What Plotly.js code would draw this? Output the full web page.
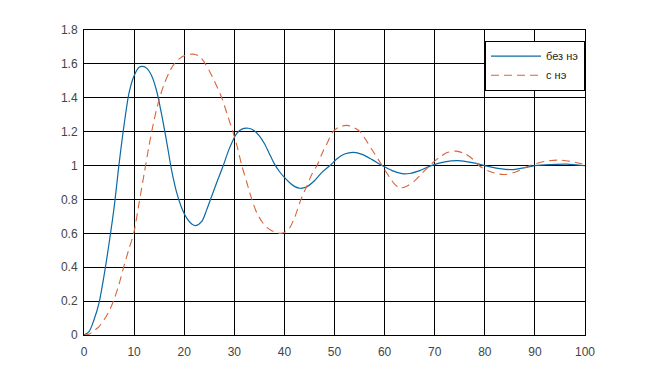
<!DOCTYPE html>
<html>
<head>
<meta charset="utf-8">
<script src="https://cdn.plot.ly/plotly-3.0.1.min.js"></script>
<style>html,body{margin:0;padding:0;background:#fff;}#chart{width:646px;height:375px;}</style>
</head>
<body>
<div id="chart"></div>
<script>
// series names
const seriesNames = ["без нэ", "с нэ"];

// "без нэ" (solid blue)
const blueX = [0, 1, 2, 3, 4, 5, 6, 7, 8, 9, 10, 11, 11.7, 12.5, 13.5, 14.5, 15.5, 16.5, 17.5, 18.5, 19.5, 20.5, 21.5, 22.3,
  23.5, 24.5, 25.5, 26.5, 27.8, 29, 30.5, 31.5, 32.8, 34, 35, 36, 37, 38, 39, 40, 41, 42, 43.1,
  44.5, 46, 47.5, 49.1, 50.5, 52, 53.8, 55.5, 57.5, 59.5, 61.5, 63.5, 65, 67, 69.3, 72, 74.7, 77.5, 80, 83, 85.7, 88, 90, 93, 96.3, 100];
const blueY = [0, 0.02, 0.09, 0.19, 0.35, 0.54, 0.75, 1.01, 1.24, 1.43, 1.53, 1.58, 1.585, 1.575, 1.53, 1.44, 1.30, 1.14, 0.97, 0.84, 0.75, 0.69, 0.655, 0.645,
  0.67, 0.74, 0.82, 0.90, 1.0, 1.10, 1.19, 1.215, 1.22, 1.205, 1.175, 1.13, 1.07, 1.01, 0.965, 0.93, 0.90, 0.877, 0.866,
  0.875, 0.91, 0.96, 1.0, 1.04, 1.068, 1.078, 1.066, 1.035, 1.0, 0.97, 0.952, 0.953, 0.97, 1.0, 1.022, 1.029, 1.017, 1.0, 0.982, 0.976, 0.988, 1.0, 1.006, 1.008, 0.999];

// "с нэ" (dashed orange)
const orangeX = [0, 1, 2, 3, 4, 5, 6, 7, 8, 9, 10, 11, 12, 13, 14, 15, 16, 17, 18, 19, 20, 21, 22, 23, 24, 25, 26, 27.5,
  28.5, 29.7, 30.5, 31.5, 32.5, 33.5, 34.5, 35.5, 36.5, 37.5, 38.5, 39.3, 40, 41, 42, 43.3, 44.5, 45.5, 46.5, 47.5, 48.5, 49.7,
  51, 52.5, 54, 55.1, 56.5, 58, 59.5, 61, 62, 63, 64.5, 66, 67.5, 69, 71, 72.5, 74.3, 76, 77.5, 78.8, 81, 83.7, 86, 89, 92, 95, 98, 100];
const orangeY = [0, 0.005, 0.025, 0.05, 0.09, 0.14, 0.21, 0.30, 0.41, 0.51, 0.61, 0.78, 0.95, 1.12, 1.27, 1.39, 1.48, 1.55, 1.60, 1.63, 1.648, 1.656, 1.657, 1.645, 1.61, 1.56, 1.50, 1.40,
  1.31, 1.20, 1.12, 1.0, 0.90, 0.80, 0.72, 0.67, 0.635, 0.615, 0.603, 0.60, 0.605, 0.63, 0.69, 0.80, 0.88, 0.95, 1.0, 1.07, 1.13, 1.20,
  1.228, 1.237, 1.222, 1.20, 1.14, 1.07, 1.0, 0.93, 0.89, 0.868, 0.88, 0.91, 0.955, 1.0, 1.05, 1.077, 1.085, 1.07, 1.04, 1.0, 0.965, 0.947, 0.96, 1.0, 1.025, 1.032, 1.02, 1.005];

// axis ticks
const xTicks = [0, 10, 20, 30, 40, 50, 60, 70, 80, 90, 100];
const yTicks = [0, 0.2, 0.4, 0.6, 0.8, 1, 1.2, 1.4, 1.6, 1.8];
const yTickText = ["0", "0.2", "0.4", "0.6", "0.8", "1", "1.2", "1.4", "1.6", "1.8"];

const traces = [
  {x: blueX, y: blueY, name: seriesNames[0], type: "scatter", mode: "lines",
   line: {color: "#0b6aa5", width: 1.2, shape: "spline", smoothing: 0.8}},
  {x: orangeX, y: orangeY, name: seriesNames[1], type: "scatter", mode: "lines",
   line: {color: "#d9643a", width: 1.1, dash: "8px,5px", shape: "spline", smoothing: 0.8}}
];

const axisCommon = {
  showgrid: true, gridcolor: "#000", gridwidth: 1,
  showline: true, linecolor: "#000", linewidth: 1, mirror: true,
  zeroline: false, ticks: "", fixedrange: true,
  tickfont: {family: "Liberation Sans, Arial, sans-serif", size: 12, color: "#444"}
};

const layout = {
  width: 646, height: 375,
  margin: {l: 84, r: 61, t: 30, b: 40},
  paper_bgcolor: "#fff", plot_bgcolor: "#fff",
  xaxis: Object.assign({}, axisCommon, {range: [0, 100], tickvals: xTicks, ticktext: xTicks.map(String), ticklabelstandoff: 6}),
  yaxis: Object.assign({}, axisCommon, {range: [0, 1.8], tickvals: yTicks, ticktext: yTickText, ticklabelstandoff: 3}),
  showlegend: true,
  legend: {
    x: 1, xanchor: "right", y: 0.965, yanchor: "top",
    bgcolor: "#fff", bordercolor: "#000", borderwidth: 1,
    font: {family: "Liberation Sans, Arial, sans-serif", size: 11, color: "#222"},
    tracegroupgap: 0, itemwidth: 50
  }
};

Plotly.newPlot("chart", traces, layout, {staticPlot: true, displayModeBar: false});
</script>
</body>
</html>
